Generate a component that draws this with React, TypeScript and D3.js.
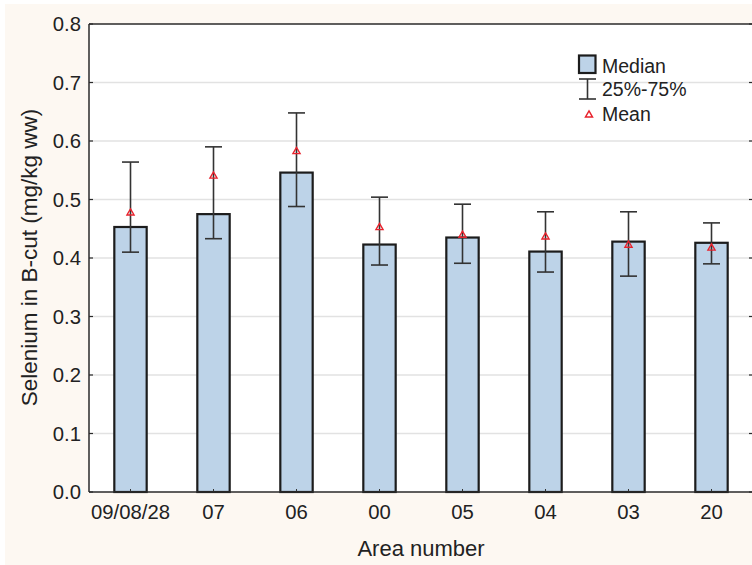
import React from "react";
import * as d3 from "d3";

const categories = ["09/08/28", "07", "06", "00", "05", "04", "03", "20"];
const medians = [0.453, 0.475, 0.546, 0.423, 0.435, 0.411, 0.428, 0.426];
const q25 = [0.41, 0.433, 0.488, 0.388, 0.391, 0.376, 0.369, 0.39];
const q75 = [0.564, 0.59, 0.648, 0.504, 0.492, 0.479, 0.479, 0.46];
const means = [0.477, 0.54, 0.582, 0.452, 0.439, 0.436, 0.422, 0.417];
const yTicks = [0, 0.1, 0.2, 0.3, 0.4, 0.5, 0.6, 0.7, 0.8];

const W = 752;
const H = 565;
const left = 89;
const right = 753;
const top = 24;
const bottom = 492;
const FONT = "'Liberation Sans', Arial, Helvetica, sans-serif";
const BAR_FILL = "#bdd3e8";
const RED = "#e8222c";

export default function App() {
  const x = d3.scaleBand<string>().domain(categories).range([left, right]).paddingInner(0).paddingOuter(0);
  const y = d3.scaleLinear().domain([0, 0.8]).range([bottom, top]);
  const bw = x.bandwidth() * 0.39;
  const capW = 17;
  const tri = d3.symbol().type(d3.symbolTriangle).size(22);

  return (
    <svg width={W} height={H} style={{ position: "absolute", left: 0, top: 0, fontFamily: FONT }}>
      <rect x={0} y={0} width={W} height={H} fill="#ffffff" />
      <rect x={5} y={4} width={W - 5} height={H - 4} fill="#fdf8f2" />
      <rect x={left} y={top} width={right - left} height={bottom - top} fill="#ffffff" />
      {/* gridlines */}
      {yTicks.slice(1, -1).map((t) => (
        <line key={"g" + t} x1={left} x2={right} y1={y(t)} y2={y(t)} stroke="#e2e2e2" strokeWidth={1.5} />
      ))}
      {/* bars */}
      {categories.map((c, i) => {
        const cx = x(c)! + x.bandwidth() / 2;
        return (
          <g key={"b" + c}>
            <rect x={cx - bw / 2} y={y(medians[i])} width={bw} height={bottom - y(medians[i])} fill={BAR_FILL} stroke="#1c1c1c" strokeWidth={2.2} />
            <line x1={cx} x2={cx} y1={y(q25[i])} y2={y(q75[i])} stroke="#333" strokeWidth={1.6} />
            <line x1={cx - capW / 2} x2={cx + capW / 2} y1={y(q25[i])} y2={y(q25[i])} stroke="#333" strokeWidth={1.6} />
            <line x1={cx - capW / 2} x2={cx + capW / 2} y1={y(q75[i])} y2={y(q75[i])} stroke="#333" strokeWidth={1.6} />
            <path d={tri()!} transform={`translate(${cx},${y(means[i])})`} fill="none" stroke={RED} strokeWidth={1.4} />
            <line x1={cx} x2={cx} y1={bottom} y2={bottom - 3} stroke="#333" strokeWidth={1} />
          </g>
        );
      })}
      {/* frame */}
      <line x1={left} x2={right} y1={top} y2={top} stroke="#2a2a2a" strokeWidth={1.5} />
      <line x1={left} x2={right} y1={bottom} y2={bottom} stroke="#2a2a2a" strokeWidth={1.5} />
      <line x1={left} x2={left} y1={top} y2={bottom} stroke="#2a2a2a" strokeWidth={1.5} />
      <line x1={right} x2={right} y1={top} y2={bottom} stroke="#2a2a2a" strokeWidth={1.5} />
      {/* y ticks */}
      {yTicks.map((t) => (
        <g key={"yt" + t}>
          <line x1={left} x2={left + 4} y1={y(t)} y2={y(t)} stroke="#2a2a2a" strokeWidth={1.2} />
          <line x1={right - 4} x2={right} y1={y(t)} y2={y(t)} stroke="#2a2a2a" strokeWidth={1.2} />
          <text x={81} y={y(t)} dy="0.35em" textAnchor="end" fontSize={20.3} fill="#222">
            {d3.format(".1f")(t)}
          </text>
        </g>
      ))}
      {/* x labels */}
      {categories.map((c) => (
        <text key={"xl" + c} x={x(c)! + x.bandwidth() / 2} y={518.5} textAnchor="middle" fontSize={20.3} fill="#222">
          {c}
        </text>
      ))}
      <text x={(left + right) / 2} y={556} textAnchor="middle" fontSize={22} fill="#222">
        Area number
      </text>
      <text transform={`translate(37,${257.5}) rotate(-90)`} textAnchor="middle" fontSize={22.5} fill="#222">
        Selenium in B-cut (mg/kg ww)
      </text>
      {/* legend */}
      <rect x={579} y={55.5} width={16.5} height={17.5} fill={BAR_FILL} stroke="#1c1c1c" strokeWidth={2.2} />
      <text x={602} y={72.5} fontSize={19.5} fill="#222">Median</text>
      <line x1={587.5} x2={587.5} y1={79} y2={99} stroke="#333" strokeWidth={1.6} />
      <line x1={579} x2={596} y1={79} y2={79} stroke="#333" strokeWidth={1.6} />
      <line x1={579} x2={596} y1={99} y2={99} stroke="#333" strokeWidth={1.6} />
      <text x={602} y={96} fontSize={19.5} fill="#222">25%-75%</text>
      <path d={tri()!} transform={`translate(589,115)`} fill="none" stroke={RED} strokeWidth={1.4} />
      <text x={602} y={121} fontSize={19.5} fill="#222">Mean</text>
    </svg>
  );
}
